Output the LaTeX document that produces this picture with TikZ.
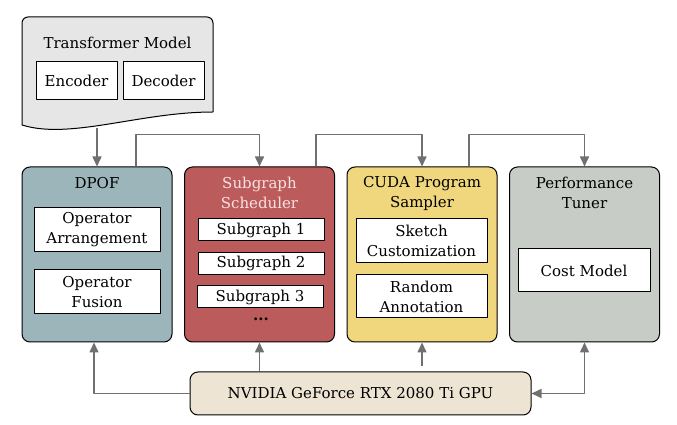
\documentclass[tikz,border=0pt]{standalone}
\usepackage{fontspec}
\setmainfont{DejaVu Serif}
\usetikzlibrary{arrows.meta}
\definecolor{dpofcol}{HTML}{9BB5BB}
\definecolor{schedcol}{HTML}{BC5B5B}
\definecolor{schedtxt}{HTML}{F8E2E2}
\definecolor{cudacol}{HTML}{F0D77E}
\definecolor{perfcol}{HTML}{C8CCC7}
\definecolor{gpucol}{HTML}{EDE4D3}
\definecolor{doccol}{HTML}{E6E6E6}
\definecolor{linkcol}{HTML}{707070}
\begin{document}
\begin{tikzpicture}[>={Triangle[length=10bp,width=9bp]},line join=bevel,
  font=\fontsize{15bp}{20bp}\selectfont,
  stage/.style={draw=black,line width=1bp,rounded corners=8bp,minimum width=150bp,minimum height=175bp},
  part/.style={draw=black,line width=1bp,fill=white,inner sep=0pt,align=center},
  link/.style={draw=linkcol,line width=1.6bp},
  ]
\useasboundingbox (0bp,0bp) rectangle (677bp,425bp);
%% input model
\draw [fill=doccol,line width=1bp,rounded corners=6bp] (22bp,300bp) -- (22bp,408bp) -- (213bp,408bp) [sharp corners] -- (213bp,313bp)
  .. controls (140bp,313bp) and (70bp,285bp) .. (22bp,300bp) -- cycle;
\node (node_doc) at (117.5bp,382bp) {Transformer Model};
\node (node_enc) at (76.5bp,344bp) [part,minimum width=81bp,minimum height=38bp] {Encoder};
\node (node_dec) at (163.5bp,344bp) [part,minimum width=81bp,minimum height=38bp] {Decoder};
\coordinate (node_doc_out) at (97bp,297bp);
%% stages
\node (node_dpof) at (97bp,170.5bp) [stage,fill=dpofcol] {};
\node (node_sched) at (259.5bp,170.5bp) [stage,fill=schedcol] {};
\node (node_cuda) at (422bp,170.5bp) [stage,fill=cudacol] {};
\node (node_perf) at (584.5bp,170.5bp) [stage,fill=perfcol] {};
\node (node_dpof_t) at (97bp,242bp) {DPOF};
\node (node_sched_t) at (259.5bp,232bp) [align=center,text=schedtxt] {Subgraph\\Scheduler};
\node (node_cuda_t) at (422bp,232bp) [align=center] {CUDA Program\\Sampler};
\node (node_perf_t) at (584.5bp,232bp) [align=center] {Performance\\Tuner};
%
\node (node_arr) at (97bp,195bp) [part,minimum width=126bp,minimum height=44bp] {Operator\\Arrangement};
\node (node_fus) at (97bp,133bp) [part,minimum width=126bp,minimum height=44bp] {Operator\\Fusion};
\node (node_sg1) at (261bp,195bp) [part,minimum width=126bp,minimum height=22bp] {Subgraph 1};
\node (node_sg2) at (261bp,161.5bp) [part,minimum width=126bp,minimum height=22bp] {Subgraph 2};
\node (node_sg3) at (260bp,128bp) [part,minimum width=126bp,minimum height=22bp] {Subgraph 3};
\node (node_dots) at (261bp,106bp) {\textbf{...}};
\node (node_sketch) at (421.5bp,184bp) [part,minimum width=131bp,minimum height=44bp] {Sketch\\Customization};
\node (node_rand) at (421.5bp,128.5bp) [part,minimum width=131bp,minimum height=43bp] {Random\\Annotation};
\node (node_cost) at (584bp,154.5bp) [part,minimum width=132bp,minimum height=43bp] {Cost Model};
%% hardware
\node (node_gpu) at (360.5bp,31.5bp) [draw=black,line width=1bp,rounded corners=8bp,fill=gpucol,minimum width=341bp,minimum height=43bp] {NVIDIA GeForce RTX 2080 Ti GPU};
%% connectors
\draw [link,->] (node_doc_out) -- (node_dpof.north);
\draw [link,->] ([xshift=39bp]node_dpof.north) -- ++(0bp,32bp) -| (node_sched.north);
\draw [link,->] ([xshift=56.5bp]node_sched.north) -- ++(0bp,32bp) -| (node_cuda.north);
\draw [link,->] ([xshift=47bp]node_cuda.north) -- ++(0bp,32bp) -| (node_perf.north);
%
\draw [link,->] (node_gpu.west) -| ([xshift=-3bp]node_dpof.south);
\draw [link,->] (node_gpu.north -| node_sched) -- (node_sched.south);
\draw [link,->,shorten <=5bp] (node_gpu.north -| node_cuda) -- (node_cuda.south);
\draw [link,<->] (node_gpu.east) -| (node_perf.south);
%
\end{tikzpicture}
\end{document}
